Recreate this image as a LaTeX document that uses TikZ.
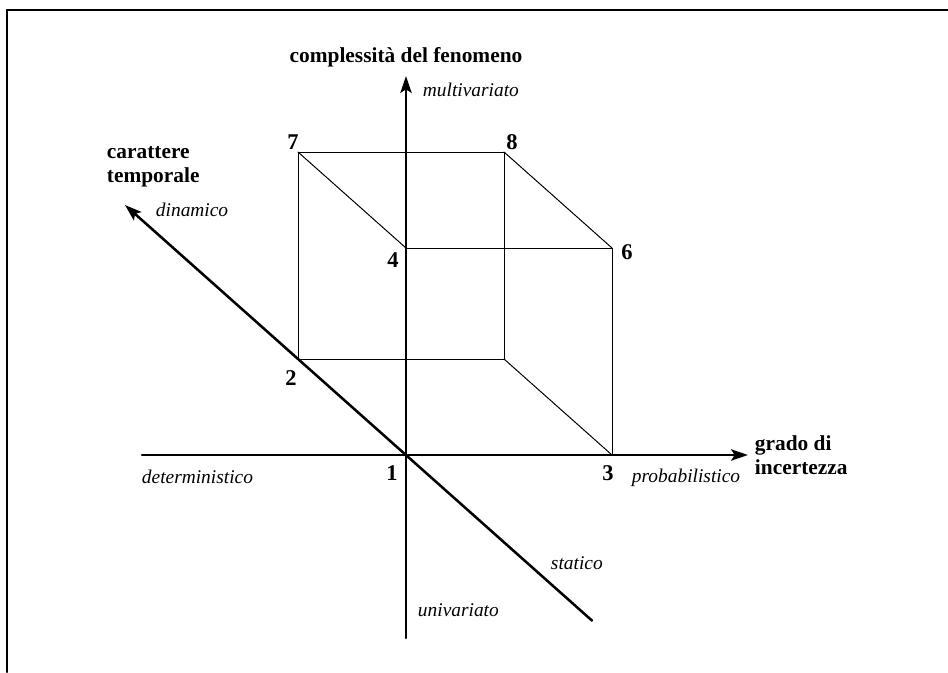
\documentclass[tikz,border=0pt]{standalone}
\usepackage{fontspec}
\setmainfont{Liberation Serif}
\usetikzlibrary{arrows.meta}

\begin{document}
\begin{tikzpicture}[
    line cap=round,
    asse/.style={line width=1.8pt, -{Stealth[length=12pt,width=8pt,inset=2.5pt]}},
    spigolo/.style={draw, line width=0.7pt},
    cornice/.style={line width=2pt},
    numero/.style={font=\fontsize{16}{18}\selectfont\bfseries},
    titolo/.style={font=\fontsize{15.2}{17}\selectfont\bfseries, align=left},
    polo/.style={font=\fontsize{13.8}{16}\selectfont\itshape}
]

% Cornice
\useasboundingbox (-10.15,-5.425) rectangle (13.55,11.375);
\draw[cornice] (-9.975,-5.425) -- (-9.975,11.125) -- (13.55,11.125);

% Vertici del cubo
\coordinate (p1) at (0,0);
\coordinate (p2) at (-2.7,2.4);
\coordinate (p3) at (5.15,0);
\coordinate (p4) at (0,5.175);
\coordinate (p5) at (2.45,2.4);
\coordinate (p6) at (5.15,5.175);
\coordinate (p7) at (-2.7,7.575);
\coordinate (p8) at (2.45,7.575);

% Spigoli
\draw[spigolo] (p2) -- (p7) -- (p8) -- (p5) -- cycle;
\draw[spigolo] (p4) -- (p6) -- (p3);
\draw[spigolo] (p7) -- (p4);
\draw[spigolo] (p8) -- (p6);
\draw[spigolo] (p5) -- (p3);

% Assi
\coordinate (xa) at (-6.6,0);
\coordinate (xb) at (8.55,0);
\coordinate (ya) at (0,-4.575);
\coordinate (yb) at (0,9.475);
\coordinate (za) at (4.65,-4.14);
\coordinate (zb) at (-7.025,6.25);
\draw[asse] (xa) -- (xb);
\draw[asse] (ya) -- (yb);
\draw[asse] (za) -- (zb);

% Numeri dei vertici
\node[numero] (n1) at (-0.35,-0.45) {1};
\node[numero] (n2) at (-2.875,1.925) {2};
\node[numero] (n3) at (5.05,-0.45) {3};
\node[numero] (n4) at (-0.325,4.875) {4};
\node[numero] (n6) at (5.525,5.075) {6};
\node[numero] (n7) at (-2.825,7.825) {7};
\node[numero] (n8) at (2.65,7.825) {8};

% Nomi degli assi
\node[titolo] (complessita) at (0,9.95) {complessità del fenomeno};
\node[titolo, anchor=west] (carattere) at (-7.6,7.2) {carattere\\temporale};
\node[titolo, anchor=west] (grado) at (8.6,0.0) {grado di\\incertezza};

% Poli
\node[polo, anchor=west] (multi) at (0.3,9.125) {multivariato};
\node[polo, anchor=west] (uni) at (0.175,-3.875) {univariato};
\node[polo, anchor=west] (dinamico) at (-6.375,6.125) {dinamico};
\node[polo, anchor=west] (statico) at (3.5,-2.7) {statico};
\node[polo, anchor=west] (determ) at (-6.725,-0.55) {deterministico};
\node[polo, anchor=west] (prob) at (5.525,-0.575) {probabilistico};

\end{tikzpicture}
\end{document}
